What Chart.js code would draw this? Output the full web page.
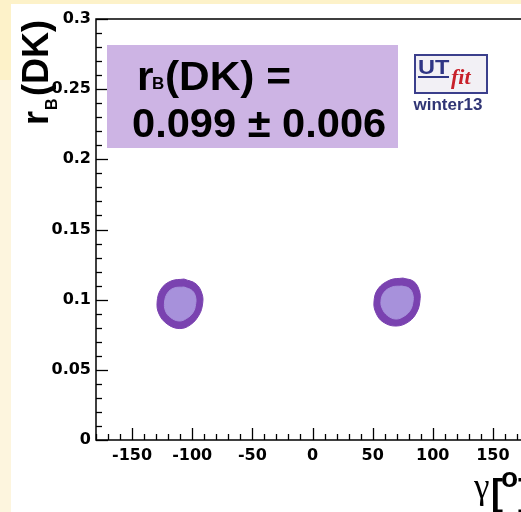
<!DOCTYPE html>
<html>
<head>
<meta charset="utf-8">
<script src="https://cdn.jsdelivr.net/npm/chart.js@4.4.1/dist/chart.umd.min.js"></script>
<style>
  html, body { margin: 0; padding: 0; width: 521px; height: 512px; overflow: hidden; background: #fdf2c9; }
  #strip { position: absolute; left: 0; top: 80px; width: 11px; height: 440px; background: #fdf5de; }
  #panel { position: absolute; left: 11px; top: 4px; width: 560px; height: 520px; background: #fff; }
  #plot { position: absolute; left: 0; top: 0; }
</style>
</head>
<body>
<div id="strip"></div>
<div id="panel"></div>
<canvas id="plot" width="560" height="512" style="width:560px;height:512px"></canvas>
<script>
// gamma [deg] vs r_B(DK), UTfit winter13
const gammaTicks = [-150, -100, -50, 0, 50, 100, 150];
const rbTicks = [0, 0.05, 0.1, 0.15, 0.2, 0.25, 0.3];
const rbTickLabels = ["0", "0.05", "0.1", "0.15", "0.2", "0.25", "0.3"];

// contour points [gamma, rB]
// 95% region (outer) and 68% region (inner), two solutions
const leftOuter = [[-106.8, 0.1147], [-96.8, 0.1112], [-91.8, 0.1040], [-91.4, 0.0969], [-94.3, 0.0891],
  [-101.8, 0.0819], [-110.9, 0.0794], [-120.9, 0.0827], [-127.6, 0.0898], [-129.2, 0.0983],
  [-125.9, 0.1076], [-117.6, 0.1133], [-106.8, 0.1147]];
const leftInner = [[-106.8, 0.1090], [-100.1, 0.1065], [-97.2, 0.1019], [-97.2, 0.0966], [-99.3, 0.0909],
  [-104.7, 0.0866], [-110.9, 0.0848], [-118.0, 0.0873], [-122.2, 0.0919], [-123.0, 0.0983],
  [-120.5, 0.1048], [-115.1, 0.1083], [-106.8, 0.1090]];
const rightOuter = [[75.2, 0.1154], [84.3, 0.1129], [88.9, 0.1062], [89.3, 0.0991], [86.8, 0.0912],
  [80.2, 0.0844], [69.4, 0.0812], [58.6, 0.0841], [52.8, 0.0905], [51.1, 0.0983],
  [54.4, 0.1076], [64.4, 0.1140], [75.2, 0.1154]];
const rightInner = [[74.4, 0.1097], [80.6, 0.1080], [83.5, 0.1033], [83.5, 0.0983], [81.4, 0.0926],
  [76.5, 0.0884], [69.4, 0.0862], [62.3, 0.0887], [58.2, 0.0933], [56.9, 0.0987],
  [59.4, 0.1051], [66.1, 0.1090], [74.4, 0.1097]];

const outerColor = "#7a42b0";
const innerColor = "#a791db";

function toPoints(arr) {
  return arr.map((p) => ({ x: p[0], y: p[1] }));
}

function contour(arr, color) {
  return {
    data: toPoints(arr),
    showLine: true,
    fill: "shape",
    backgroundColor: color,
    borderColor: color,
    borderWidth: 1,
    pointRadius: 0,
    tension: 0.4,
  };
}

// stretched text helper
function stretchText(ctx, txt, x, y, sx) {
  ctx.save();
  ctx.translate(x, y);
  ctx.scale(sx, 1);
  ctx.fillText(txt, 0, 0);
  ctx.restore();
}

const decorPlugin = {
  id: "decor",
  afterDraw(chart) {
    const ctx = chart.ctx;
    const xs = chart.scales.x;
    const ys = chart.scales.y;
    const a = chart.chartArea;
    ctx.save();

    // frame
    ctx.strokeStyle = "#000";
    ctx.lineWidth = 1.5;
    ctx.beginPath();
    ctx.moveTo(a.right, a.top);
    ctx.lineTo(a.left, a.top);
    ctx.lineTo(a.left, a.bottom);
    ctx.lineTo(a.right, a.bottom);
    ctx.stroke();

    // ticks pointing inside
    ctx.lineWidth = 1.3;
    for (let v = -180; v <= 180; v += 10) {
      const px = Math.round(xs.getPixelForValue(v)) + 0.5;
      const len = v % 50 === 0 ? 12 : 6;
      ctx.beginPath();
      ctx.moveTo(px, a.bottom);
      ctx.lineTo(px, a.bottom - len);
      ctx.stroke();
    }
    for (let i = 0; i <= 30; i++) {
      const py = Math.round(ys.getPixelForValue(i / 100)) + 0.5;
      const len = i % 5 === 0 ? 12 : 6;
      ctx.beginPath();
      ctx.moveTo(a.left, py);
      ctx.lineTo(a.left + len, py);
      ctx.stroke();
    }

    // result box
    ctx.fillStyle = "#cdb4e4";
    ctx.fillRect(107, 45, 291, 103);
    ctx.fillStyle = "#000";
    ctx.textBaseline = "alphabetic";
    ctx.font = "bold 40px 'Liberation Sans', Arial, sans-serif";
    stretchText(ctx, "r", 137, 90, 1.06);
    ctx.font = "bold 16px 'Liberation Sans', Arial, sans-serif";
    stretchText(ctx, "B", 152, 89, 1.06);
    ctx.font = "bold 40px 'Liberation Sans', Arial, sans-serif";
    stretchText(ctx, "(DK) =", 165, 90, 1.06);
    stretchText(ctx, "0.099 \u00b1 0.006", 132, 137, 1.04);

    // UTfit logo
    ctx.fillStyle = "#f2f0f5";
    ctx.fillRect(415, 55, 72, 38);
    ctx.strokeStyle = "#3b3f8c";
    ctx.lineWidth = 2;
    ctx.strokeRect(415, 55, 72, 38);
    ctx.fillStyle = "#2f3585";
    ctx.font = "bold 21px 'Liberation Sans', Arial, sans-serif";
    stretchText(ctx, "UT", 418, 74, 1.12);
    ctx.fillRect(418, 76, 31, 2);
    ctx.fillStyle = "#c8202a";
    ctx.font = "italic bold 22px 'Liberation Serif', serif";
    ctx.fillText("fit", 451, 84);
    ctx.fillStyle = "#303575";
    ctx.font = "bold 17px 'Liberation Sans', Arial, sans-serif";
    ctx.textAlign = "center";
    ctx.fillText("winter13", 448, 110);
    ctx.textAlign = "left";

    // y axis title
    ctx.fillStyle = "#000";
    ctx.save();
    ctx.translate(48, 125);
    ctx.rotate(-Math.PI / 2);
    ctx.font = "bold 36px 'Liberation Sans', Arial, sans-serif";
    ctx.fillText("r", 0, 0);
    ctx.font = "bold 16px 'Liberation Sans', Arial, sans-serif";
    ctx.fillText("B", 15, 9);
    ctx.font = "bold 36px 'Liberation Sans', Arial, sans-serif";
    ctx.fillText("(DK)", 29, 0);
    ctx.restore();

    // x axis title
    ctx.font = "35px 'Liberation Serif', serif";
    ctx.fillText("\u03b3", 474, 498);
    ctx.font = "bold 36px 'Liberation Sans', Arial, sans-serif";
    ctx.fillText("[", 491, 505);
    ctx.font = "bold 28px 'Liberation Sans', Arial, sans-serif";
    ctx.fillText("o", 501, 487);
    ctx.font = "bold 36px 'Liberation Sans', Arial, sans-serif";
    ctx.fillText("]", 518, 505);

    ctx.restore();
  },
};

const tickFont = { family: "'DejaVu Sans'", weight: "bold", size: 16 };

new Chart(document.getElementById("plot").getContext("2d"), {
  type: "scatter",
  data: {
    datasets: [
      contour(leftInner, innerColor),
      contour(rightInner, innerColor),
      contour(leftOuter, outerColor),
      contour(rightOuter, outerColor),
    ],
  },
  options: {
    responsive: false,
    animation: false,
    devicePixelRatio: 1,
    layout: { padding: { left: 0, right: 31, top: 19, bottom: 0 } },
    plugins: { legend: { display: false }, tooltip: { enabled: false } },
    scales: {
      x: {
        type: "linear",
        min: -180,
        max: 180,
        grid: { display: false, drawTicks: false },
        border: { display: false },
        afterBuildTicks: (scale) => {
          scale.ticks = gammaTicks.map((v) => ({ value: v }));
        },
        afterFit: (scale) => {
          scale.height = 72;
        },
        ticks: { color: "#000", font: tickFont, padding: 6, maxRotation: 0, autoSkip: false },
      },
      y: {
        type: "linear",
        min: 0,
        max: 0.3,
        grid: { display: false, drawTicks: false },
        border: { display: false },
        afterBuildTicks: (scale) => {
          scale.ticks = rbTicks.map((v) => ({ value: v }));
        },
        afterFit: (scale) => {
          scale.width = 96;
        },
        ticks: {
          color: "#000",
          font: tickFont,
          padding: 5,
          autoSkip: false,
          callback: (v) => {
            const i = rbTicks.indexOf(v);
            return i >= 0 ? rbTickLabels[i] : "";
          },
        },
      },
    },
  },
  plugins: [decorPlugin],
});
</script>
</body>
</html>
